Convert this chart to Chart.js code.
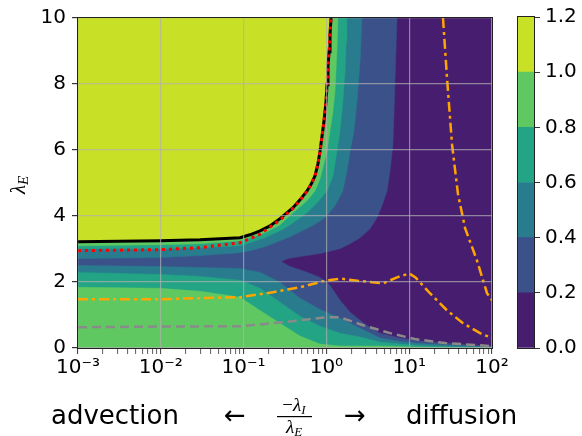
<!DOCTYPE html>
<html>
<head>
<meta charset="utf-8">
<script src="https://cdn.jsdelivr.net/npm/chart.js@4.4.0/dist/chart.umd.min.js"></script>
<style>
  html, body { margin: 0; padding: 0; background: #fff; }
  #wrap { position: relative; width: 582px; height: 436px; }
  #main { position: absolute; left: 0; top: 0; }
  #cbar { position: absolute; left: 500px; top: 0; }
</style>
</head>
<body>
<div id="wrap">
  <canvas id="main" width="582" height="436"></canvas>
  <canvas id="cbar" width="82" height="436"></canvas>
</div>
<script>
// axis ranges and contour levels
const xMin = 0.001, xMax = 100, yMin = 0, yMax = 10;
const levels = [0, 0.2, 0.4, 0.6, 0.8, 1.0, 1.2];
const levelColors = ["#471e6f", "#3b518a", "#287c8e", "#22a485", "#5fc860", "#c8e026"];
const yTicks = [0, 2, 4, 6, 8, 10];

// contour 1.0 (edge of the yellow region, also the black line)
const c10X = [0.001, 0.00977, 0.0297, 0.0906, 0.119, 0.158, 0.208, 0.275, 0.395, 0.48, 0.583, 0.66, 0.728, 0.79, 0.837, 0.885, 0.935, 0.99, 1.017, 1.045, 1.075, 1.105, 1.137];
const c10Y = [3.22, 3.25, 3.28, 3.34, 3.43, 3.55, 3.70, 3.92, 4.25, 4.49, 4.76, 4.98, 5.22, 5.58, 5.96, 6.42, 6.87, 7.47, 7.98, 8.52, 8.98, 9.49, 10];

// contour 0.8, upper and lower branch
const c08upX = [0.001, 0.00977, 0.0297, 0.0906, 0.119, 0.181, 0.275, 0.395, 0.48, 0.583, 0.728, 0.837, 0.935, 1.017, 1.105, 1.20, 1.27, 1.34, 1.38];
const c08upY = [3.10, 3.13, 3.16, 3.25, 3.34, 3.49, 3.73, 4.10, 4.28, 4.46, 4.76, 5.12, 5.60, 5.96, 6.57, 7.17, 7.77, 8.98, 10];
const c08loX = [0.001, 0.00977, 0.0297, 0.0906, 0.158, 0.275, 0.48, 0.837, 1.46, 2.55, 4.44, 7.74, 13.5, 31.1];
const c08loY = [1.84, 1.81, 1.72, 1.54, 1.14, 0.75, 0.36, 0.12, 0.06, 0.06, 0.06, 0.045, 0.02, 0];

// contour 0.6
const c06upX = [0.001, 0.00977, 0.0297, 0.0906, 0.119, 0.181, 0.275, 0.363, 0.48, 0.583, 0.792, 1.017, 1.20, 1.34, 1.46, 1.58, 1.68, 1.73, 1.77];
const c06upY = [3.01, 3.01, 3.04, 3.10, 3.19, 3.34, 3.55, 3.73, 3.95, 4.10, 4.43, 4.76, 5.21, 5.96, 6.57, 7.47, 8.37, 9.28, 10];
const c06loX = [0.001, 0.00977, 0.0297, 0.0906, 0.158, 0.275, 0.48, 0.837, 1.46, 2.55, 4.44, 7.74, 13.5, 31.1, 100];
const c06loY = [2.29, 2.23, 2.17, 2.05, 1.81, 1.39, 0.96, 0.66, 0.45, 0.33, 0.18, 0.12, 0.075, 0.04, 0.015];

// contour 0.4
const c04upX = [0.001, 0.00977, 0.0297, 0.0906, 0.119, 0.181, 0.275, 0.363, 0.48, 0.67, 0.962, 1.27, 1.58, 1.77, 1.93, 2.15, 2.34, 2.55, 2.69];
const c04upY = [2.71, 2.74, 2.80, 2.89, 2.95, 3.07, 3.25, 3.37, 3.52, 3.70, 3.95, 4.31, 4.76, 5.36, 5.96, 6.57, 7.47, 8.67, 10];
const c04loX = [0.001, 0.00977, 0.0297, 0.0906, 0.158, 0.275, 0.48, 0.837, 1.46, 2.55, 4.44, 7.74, 13.5, 31.1, 100];
const c04loY = [2.50, 2.47, 2.44, 2.41, 2.29, 1.99, 1.51, 1.17, 0.90, 0.60, 0.30, 0.20, 0.135, 0.08, 0.03];

// contour 0.2 (edge of the purple region), from the top down round the tongue
const c02X = [7.13, 6.74, 6.37, 5.86, 5.40, 4.69, 4.08, 3.36, 2.55, 1.93, 1.46, 0.837, 0.48, 0.344, 0.283, 0.363, 0.552, 0.837, 1.105, 1.46, 1.93, 2.93, 4.44, 7.74, 13.5, 27.1, 54.2, 100];
const c02Y = [10, 8.07, 6.17, 5.36, 4.76, 4.31, 3.95, 3.61, 3.34, 3.16, 3.01, 2.86, 2.77, 2.71, 2.62, 2.47, 2.32, 2.14, 1.90, 1.45, 1.08, 0.72, 0.45, 0.30, 0.21, 0.15, 0.09, 0.06];

// red dotted line
const redX = [0.001, 0.00977, 0.0297, 0.0906, 0.158, 0.275, 0.395, 0.48, 0.583, 0.66, 0.728, 0.79, 0.837, 0.885, 0.935, 0.99, 1.017, 1.045, 1.075, 1.105, 1.137];
const redY = [2.95, 2.98, 3.04, 3.19, 3.45, 3.88, 4.23, 4.47, 4.75, 4.97, 5.21, 5.57, 5.95, 6.42, 6.87, 7.47, 7.98, 8.52, 8.98, 9.49, 10];

// orange dash-dot lines
const orangeAX = [0.001, 0.01, 0.0906, 0.226, 0.48, 1.0, 1.5, 2.55, 4.83, 7.13, 10.0, 11.9, 17.8, 28.6, 44.7, 71.6, 100];
const orangeAY = [1.48, 1.48, 1.54, 1.69, 1.84, 2.05, 2.10, 2.03, 1.96, 2.14, 2.26, 2.14, 1.66, 1.14, 0.75, 0.45, 0.30];
const orangeBX = [25.6, 28.6, 32.9, 38.8, 47.2, 65.9, 87.1, 100];
const orangeBY = [10, 8.19, 6.17, 4.67, 3.64, 2.65, 1.66, 1.45];

// grey dashed line
const greyX = [0.001, 0.01, 0.0906, 0.299, 1.0, 1.46, 2.77, 5.86, 11.7, 27.1, 71.6, 100];
const greyY = [0.63, 0.65, 0.66, 0.78, 0.93, 0.93, 0.69, 0.45, 0.27, 0.15, 0.08, 0.05];

const pts = (xs, ys) => xs.map((x, i) => ({ x: x, y: ys[i] }));
const sup = { "-": "\u207b", "0": "\u2070", "1": "\u00b9", "2": "\u00b2", "3": "\u00b3" };
const isMajor = (v) => Math.abs(Math.log10(v) - Math.round(Math.log10(v))) < 1e-6;

Chart.defaults.font.family = "'DejaVu Sans'";
Chart.defaults.font.size = 20;
Chart.defaults.color = "#000";

function band(data, color, order) {
  return {
    data: data, showLine: true, fill: "shape",
    backgroundColor: color, borderColor: color, borderWidth: 0.5,
    pointRadius: 0, pointHoverRadius: 0, order: order,
  };
}
function curve(data, color, width, dash, order) {
  return {
    data: data, showLine: true, fill: false,
    borderColor: color, backgroundColor: color, borderWidth: width,
    borderDash: dash, borderCapStyle: "butt",
    pointRadius: 0, pointHoverRadius: 0, order: order,
  };
}

const datasets = [
  curve(pts(redX, redY), "#ff0000", 3, [3, 4], 1),
  curve(pts(c10X, c10Y), "#000000", 3, [], 2),
  curve(pts(orangeAX, orangeAY), "#ffa500", 2.5, [10, 4, 3, 4], 3),
  curve(pts(orangeBX, orangeBY), "#ffa500", 2.5, [10, 4, 3, 4], 3),
  curve(pts(greyX, greyY), "#8a8a8a", 2.5, [9, 5], 4),
  band([{ x: xMin, y: yMax }].concat(pts(c10X, c10Y)), levelColors[5], 10),
  band([{ x: xMin, y: yMax }].concat(pts(c08upX, c08upY)), levelColors[4], 11),
  band([{ x: xMin, y: yMin }].concat(pts(c08loX, c08loY), [{ x: xMax, y: yMin }]), levelColors[4], 11),
  band([{ x: xMin, y: yMax }].concat(pts(c06upX, c06upY)), levelColors[3], 12),
  band([{ x: xMin, y: yMin }].concat(pts(c06loX, c06loY), [{ x: xMax, y: yMin }]), levelColors[3], 12),
  band([{ x: xMin, y: yMax }].concat(pts(c04upX, c04upY)), levelColors[2], 13),
  band([{ x: xMin, y: yMin }].concat(pts(c04loX, c04loY), [{ x: xMax, y: yMin }]), levelColors[2], 13),
  band([{ x: xMin, y: yMin }, { x: xMin, y: yMax }].concat(pts(c02X, c02Y), [{ x: xMax, y: yMin }]), levelColors[1], 14),
  band([{ x: xMin, y: yMin }, { x: xMin, y: yMax }, { x: xMax, y: yMax }, { x: xMax, y: yMin }], levelColors[0], 15),
];

// frame round the plot area
const frame = {
  id: "frame",
  afterDraw(chart) {
    const a = chart.chartArea, ctx = chart.ctx;
    ctx.save();
    ctx.strokeStyle = "#222";
    ctx.lineWidth = 1;
    ctx.strokeRect(a.left - 0.5, a.top - 0.5, a.right - a.left + 1, a.bottom - a.top + 1);
    ctx.restore();
  },
};

// axis labels with math parts
function runText(ctx, parts, x, y) {
  for (const p of parts) {
    ctx.font = p[1];
    ctx.fillText(p[0], x, y + p[2]);
    x += ctx.measureText(p[0]).width;
  }
}
function runWidth(ctx, parts) {
  let w = 0;
  for (const p of parts) { ctx.font = p[1]; w += ctx.measureText(p[0]).width; }
  return w;
}
const axisText = {
  id: "axisText",
  afterDraw(chart) {
    const ctx = chart.ctx;
    ctx.save();
    ctx.fillStyle = "#000";
    ctx.textAlign = "left";
    ctx.textBaseline = "alphabetic";
    ctx.font = "26px 'DejaVu Sans'";
    ctx.fillText("advection", 51, 424);
    ctx.fillText("\u2190", 224, 424);
    ctx.fillText("\u2192", 344, 424);
    ctx.fillText("diffusion", 406, 424);

    const num = [["\u2212", "19px 'Liberation Serif'", 0], ["\u03bb", "italic 19px 'Liberation Serif'", 0], ["I", "italic 13px 'Liberation Serif'", 3]];
    const den = [["\u03bb", "italic 19px 'Liberation Serif'", 0], ["E", "italic 13px 'Liberation Serif'", 3]];
    const cx = 294;
    runText(ctx, num, cx - runWidth(ctx, num) / 2, 411);
    ctx.fillRect(277, 416, 35, 1.2);
    runText(ctx, den, cx - runWidth(ctx, den) / 2, 433);

    ctx.translate(25, 194);
    ctx.rotate(-Math.PI / 2);
    runText(ctx, [["\u03bb", "italic 21px 'Liberation Serif'", 0], ["E", "italic 15px 'Liberation Serif'", 3]], 0, 0);
    ctx.restore();
  },
};

const gridColor = "rgba(176,176,176,0.7)";

new Chart("main", {
  type: "scatter",
  data: { datasets: datasets },
  options: {
    responsive: false,
    animation: false,
    events: [],
    layout: { padding: { left: 0, right: 90, top: 16, bottom: 0 } },
    scales: {
      x: {
        type: "logarithmic",
        min: xMin,
        max: xMax,
        border: { display: false },
        grid: {
          z: 1,
          color: (ctx) => (ctx.tick && isMajor(ctx.tick.value) ? gridColor : "rgba(0,0,0,0)"),
          lineWidth: 1.2,
          tickColor: "#333",
          tickWidth: (ctx) => (ctx.tick && isMajor(ctx.tick.value) ? 1 : 0.8),
          tickLength: 6,
        },
        afterBuildTicks: (scale) => {
          const t = [];
          for (let e = -3; e < 2; e++) {
            for (let s = 1; s < 10; s++) t.push({ value: Number((s * Math.pow(10, e)).toPrecision(3)) });
          }
          t.push({ value: xMax });
          scale.ticks = t;
        },
        ticks: {
          autoSkip: false,
          maxRotation: 0,
          minRotation: 0,
          padding: 2,
          callback: (value) => {
            if (!isMajor(value)) return "";
            const e = String(Math.round(Math.log10(value)));
            return "10" + e.split("").map((c) => sup[c]).join("");
          },
        },
        afterFit: (scale) => { scale.height = 88; },
      },
      y: {
        min: yMin,
        max: yMax,
        border: { display: false },
        grid: { z: 1, color: gridColor, lineWidth: 1.2, tickColor: "#333", tickLength: 6 },
        ticks: { stepSize: 2, padding: 6 },
        afterBuildTicks: (scale) => { scale.ticks = yTicks.map((v) => ({ value: v })); },
        afterFit: (scale) => { scale.width = 78; },
      },
    },
    plugins: {
      legend: { display: false },
      tooltip: { enabled: false },
    },
  },
  plugins: [frame, axisText],
});

// colour bar
new Chart("cbar", {
  type: "bar",
  data: {
    labels: [""],
    datasets: levelColors.map((c, i) => ({
      data: [levels[i + 1] - levels[i]],
      backgroundColor: c,
      borderWidth: 0,
      barPercentage: 1,
      categoryPercentage: 1,
    })),
  },
  options: {
    responsive: false,
    animation: false,
    events: [],
    layout: { padding: { left: 18, right: 0, top: 16, bottom: 88 } },
    scales: {
      x: { display: false, stacked: true },
      y: {
        stacked: true,
        position: "right",
        min: levels[0],
        max: levels[levels.length - 1],
        border: { display: false },
        grid: { drawOnChartArea: false, tickColor: "#333", tickLength: 6 },
        ticks: { stepSize: 0.2, padding: 5, callback: (v) => Number(v).toFixed(1) },
        afterFit: (scale) => { scale.width = 48; },
      },
    },
    plugins: {
      legend: { display: false },
      tooltip: { enabled: false },
    },
  },
  plugins: [frame],
});
</script>
</body>
</html>
